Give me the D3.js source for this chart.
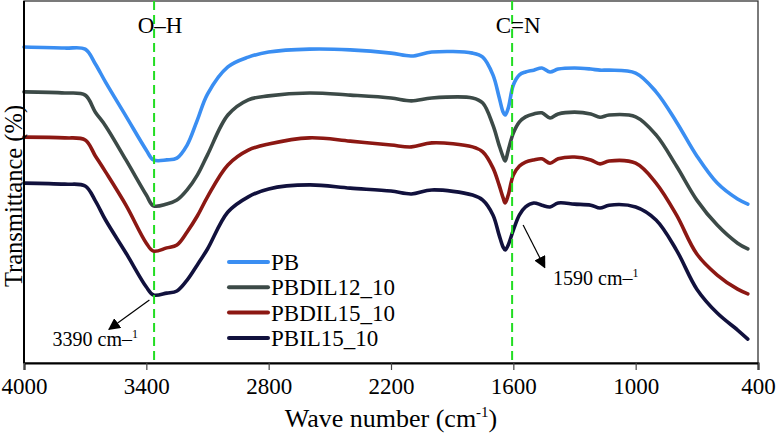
<!DOCTYPE html>
<html>
<head>
<meta charset="utf-8">
<script src="https://cdn.jsdelivr.net/npm/d3@7"></script>
<style>
  body { margin: 0; background: #fff; }
  svg { display: block; }
  text { font-family: "Liberation Serif", "Times New Roman", serif; fill: #000; }
</style>
</head>
<body>
<div id="chart"></div>
<script>
// wave numbers (cm-1) shared by every spectrum
const waveNumbers = [4000, 3800, 3700, 3650, 3600, 3500, 3400, 3365, 3300, 3250, 3200, 3150, 3100, 3000, 2900, 2800,
  2600, 2400, 2200, 2100, 2000, 1800, 1750, 1700, 1670, 1650, 1640, 1625, 1600, 1570, 1540, 1500, 1460, 1420, 1380,
  1300, 1220, 1175, 1130, 1000, 900, 800, 700, 600, 500, 450];

// transmittance (stacked, arbitrary %)
const pb = [87.3, 87.0, 86.7, 82.6, 77.6, 68.2, 58.8, 56.1, 56.1, 56.6, 60.2, 67.1, 74.3, 81.8, 84.5, 85.9,
  86.7, 86.5, 85.6, 84.8, 85.9, 85.6, 84.5, 79.6, 73.5, 69.3, 68.5, 70.4, 76.8, 79.6, 80.4, 80.9, 81.5, 80.4, 81.2,
  81.5, 81.2, 80.9, 80.9, 80.1, 74.9, 66.6, 57.2, 49.7, 45.3, 43.9];
const pbdil12 = [74.9, 74.6, 74.0, 69.3, 65.5, 56.1, 46.4, 43.4, 43.9, 45.0, 47.8, 51.9, 57.5, 68.5, 72.7, 73.8,
  74.6, 74.0, 73.2, 72.4, 73.2, 73.2, 71.8, 65.7, 60.2, 56.9, 55.8, 58.8, 63.5, 66.6, 68.0, 68.8, 69.1, 67.7, 68.8,
  69.3, 68.8, 67.9, 68.5, 68.0, 63.0, 54.4, 45.0, 38.1, 33.1, 31.5];
const pbdil15 = [62.4, 62.2, 61.6, 57.2, 52.8, 43.6, 33.1, 30.9, 31.8, 32.6, 36.2, 40.6, 45.9, 54.7, 58.8, 60.5,
  62.2, 61.3, 60.2, 59.7, 60.8, 59.7, 58.3, 53.9, 49.2, 45.6, 44.2, 46.4, 51.9, 54.4, 55.5, 56.1, 56.4, 55.2, 56.4,
  56.9, 56.1, 55.0, 55.8, 55.2, 49.7, 40.9, 30.1, 24.3, 20.4, 19.1];
const pbil15 = [49.7, 49.4, 48.9, 44.8, 39.5, 30.4, 21.0, 18.8, 19.3, 19.9, 22.9, 27.1, 31.5, 41.7, 45.9, 48.1,
  49.2, 48.3, 47.5, 46.7, 47.8, 46.4, 45.0, 40.9, 35.4, 32.0, 31.2, 32.6, 36.7, 40.9, 43.1, 44.2, 43.6, 43.1, 44.2,
  43.9, 43.6, 42.8, 43.6, 43.1, 39.5, 31.2, 20.4, 13.8, 9.1, 6.6];

const seriesNames = ["PB", "PBDIL12_10", "PBDIL15_10", "PBIL15_10"];
const seriesValues = [pb, pbdil12, pbdil15, pbil15];
const seriesColors = ["#3a8ef2", "#3c4a47", "#8c1813", "#11113d"];

const xTicks = [4000, 3400, 2800, 2200, 1600, 1000, 400];
const markerLines = [{ wn: 3362, label: "O–H" }, { wn: 1606, label: "C=N" }];
const peakNotes = [
  { text: "3390 cm–", from: [3385, 17.4], to: [3583, 9.3], at: [3860, 4.7] },
  { text: "1590 cm–", from: [1552, 38.1], to: [1446, 26.4], at: [1405, 21.5] }
];

const margin = { top: 1, right: 18, bottom: 71, left: 24 };
const width = 776 - margin.left - margin.right;
const height = 434 - margin.top - margin.bottom;

const svgRoot = d3.select("#chart")
  .append("svg")
  .attr("width", 776)
  .attr("height", 434);

svgRoot.append("defs").append("marker")
  .attr("id", "arrow")
  .attr("viewBox", "0 0 10 10")
  .attr("refX", 9)
  .attr("refY", 5)
  .attr("markerWidth", 12)
  .attr("markerHeight", 12)
  .attr("markerUnits", "userSpaceOnUse")
  .attr("orient", "auto")
  .append("path")
  .attr("d", "M0,0L10,5L0,10Z")
  .attr("fill", "#000");

const svg = svgRoot.append("g")
  .attr("transform", `translate(${margin.left},${margin.top})`);

const x = d3.scaleLinear().domain([4000, 400]).range([0, width]);
const y = d3.scaleLinear().domain([0, 100]).range([height, 0]);

// frame (top / right)
svg.append("rect")
  .attr("x", 0).attr("y", 0)
  .attr("width", width).attr("height", height)
  .attr("fill", "none")
  .attr("stroke", "#333")
  .attr("stroke-width", 1.3);

// spectra
const line = d3.line()
  .x(d => x(d[0]))
  .y(d => y(d[1]))
  .curve(d3.curveCatmullRom.alpha(0.5));

seriesValues.forEach((vals, i) => {
  svg.append("path")
    .datum(waveNumbers.map((w, j) => [w, vals[j]]))
    .attr("fill", "none")
    .attr("stroke", seriesColors[i])
    .attr("stroke-width", 3.6)
    .attr("stroke-linejoin", "round")
    .attr("stroke-linecap", "round")
    .attr("d", line);
});

// green dashed marker lines
markerLines.forEach(m => {
  svg.append("line")
    .attr("x1", x(m.wn)).attr("x2", x(m.wn))
    .attr("y1", 0).attr("y2", height)
    .attr("stroke", "#22dd22")
    .attr("stroke-width", 2)
    .attr("stroke-dasharray", "9,5");
  svg.append("text")
    .attr("x", x(m.wn) + 6)
    .attr("y", 32)
    .attr("text-anchor", "middle")
    .style("font-size", "23px")
    .text(m.label);
});

// peak arrows + labels
peakNotes.forEach(n => {
  svg.append("line")
    .attr("x1", x(n.from[0])).attr("y1", y(n.from[1]))
    .attr("x2", x(n.to[0])).attr("y2", y(n.to[1]))
    .attr("stroke", "#000")
    .attr("stroke-width", 1.2)
    .attr("marker-end", "url(#arrow)");
  const t = svg.append("text")
    .attr("x", x(n.at[0]))
    .attr("y", y(n.at[1]))
    .style("font-size", "20px")
    .text(n.text);
  t.append("tspan")
    .attr("dy", -8)
    .style("font-size", "12px")
    .text("1");
});

// axes
const xAxis = svg.append("g")
  .attr("transform", `translate(0,${height})`)
  .call(d3.axisBottom(x).tickValues(xTicks).tickSize(7).tickPadding(8).tickFormat(d3.format("d")));
xAxis.select(".domain").attr("stroke", "#000").attr("stroke-width", 2);
xAxis.selectAll(".tick line").attr("stroke", "#444").attr("stroke-width", 1.2);
xAxis.selectAll(".tick text")
  .style("font-size", "23px")
  .style("font-family", "'Liberation Serif', 'Times New Roman', serif")
  .attr("fill", "#000");

svg.append("line")
  .attr("x1", 0).attr("x2", 0)
  .attr("y1", 0).attr("y2", height)
  .attr("stroke", "#000")
  .attr("stroke-width", 2);

// axis titles
const xt = svg.append("text")
  .attr("x", 367)
  .attr("y", 426)
  .attr("text-anchor", "middle")
  .style("font-size", "26px")
  .text("Wave number (cm");
xt.append("tspan").attr("dy", -10).style("font-size", "15px").text("-1");
xt.append("tspan").attr("dy", 10).text(")");

svg.append("text")
  .attr("transform", "rotate(-90)")
  .attr("x", -195)
  .attr("y", -2)
  .attr("text-anchor", "middle")
  .style("font-size", "24.5px")
  .text("Transmittance (%)");

// legend
const legend = svg.append("g")
  .attr("transform", "translate(203,261)");

const items = legend.selectAll(".legend-item")
  .data(seriesNames)
  .enter()
  .append("g")
  .attr("class", "legend-item")
  .attr("transform", (d, i) => `translate(0,${i * 25.3})`);

items.append("line")
  .attr("x1", 2).attr("x2", 41)
  .attr("stroke", (d, i) => seriesColors[i])
  .attr("stroke-width", 4)
  .attr("stroke-linecap", "round");

items.append("text")
  .attr("x", 44)
  .attr("y", 8)
  .style("font-size", "23px")
  .text(d => d);
</script>
</body>
</html>
